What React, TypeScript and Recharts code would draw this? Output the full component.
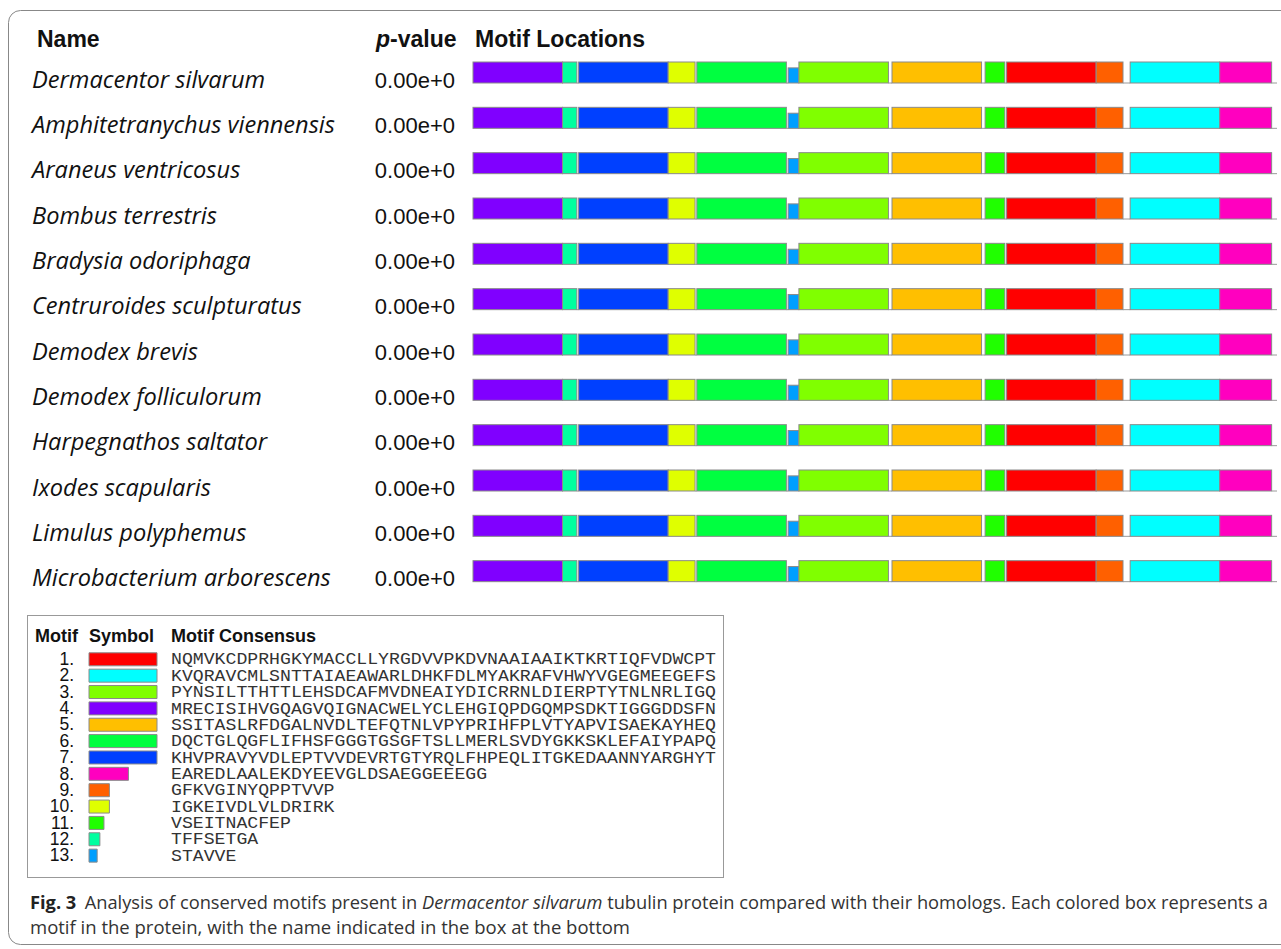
import { Bar, BarChart, Cell, XAxis, YAxis } from "recharts"

const species = [
  "Dermacentor silvarum",
  "Amphitetranychus viennensis",
  "Araneus ventricosus",
  "Bombus terrestris",
  "Bradysia odoriphaga",
  "Centruroides sculpturatus",
  "Demodex brevis",
  "Demodex folliculorum",
  "Harpegnathos saltator",
  "Ixodes scapularis",
  "Limulus polyphemus",
  "Microbacterium arborescens",
]

const pValues = [
  "0.00e+0", "0.00e+0", "0.00e+0", "0.00e+0", "0.00e+0", "0.00e+0",
  "0.00e+0", "0.00e+0", "0.00e+0", "0.00e+0", "0.00e+0", "0.00e+0",
]

const motifIds = ["1", "2", "3", "4", "5", "6", "7", "8", "9", "10", "11", "12", "13"]

const motifColors = [
  "#ff0000", "#00ffff", "#80ff00", "#8000ff", "#ffbf00", "#00ff40", "#0040ff",
  "#ff00bf", "#ff6000", "#dfff00", "#20ff00", "#00ff9f", "#009fff",
]

const motifConsensus = [
  "NQMVKCDPRHGKYMACCLLYRGDVVPKDVNAAIAAIKTKRTIQFVDWCPT",
  "KVQRAVCMLSNTTAIAEAWARLDHKFDLMYAKRAFVHWYVGEGMEEGEFS",
  "PYNSILTTHTTLEHSDCAFMVDNEAIYDICRRNLDIERPTYTNLNRLIGQ",
  "MRECISIHVGQAGVQIGNACWELYCLEHGIQPDGQMPSDKTIGGGDDSFN",
  "SSITASLRFDGALNVDLTEFQTNLVPYPRIHFPLVTYAPVISAEKAYHEQ",
  "DQCTGLQGFLIFHSFGGGTGSGFTSLLMERLSVDYGKKSKLEFAIYPAPQ",
  "KHVPRAVYVDLEPTVVDEVRTGTYRQLFHPEQLITGKEDAANNYARGHYT",
  "EAREDLAALEKDYEEVGLDSAEGGEEEGG",
  "GFKVGINYQPPTVVP",
  "IGKEIVDLVLDRIRK",
  "VSEITNACFEP",
  "TFFSETGA",
  "STAVVE",
]

// motif sites along each sequence: motif number, start residue, relative box height
const siteMotifs = [4, 12, 7, 10, 6, 13, 3, 5, 11, 1, 9, 2, 8]
const siteStarts = [0, 50, 59, 109, 125, 176, 182, 234, 286, 298, 348, 367, 417]
const siteHeights = [1, 1, 1, 1, 1, 0.72, 1, 1, 1, 1, 1, 1, 1]
const sequenceLength = 449

const rows = species.map((name, i) => {
  const row: Record<string, string | number> = { name, pValue: pValues[i] }
  let pos = 0
  siteMotifs.forEach((m, k) => {
    const len = motifConsensus[m - 1].length
    row[`gap${k}`] = siteStarts[k] - pos
    row[`site${k}`] = len
    pos = siteStarts[k] + len
  })
  row.tail = sequenceLength - pos
  return row
})

const legendRows = motifIds.map((id, i) => ({
  id,
  width: motifConsensus[i].length,
}))

const SANS = "'Liberation Sans', Arial, sans-serif"

function GapLine(props: any) {
  const { x, y, width, height } = props
  if (!width) return <g />
  return <line x1={x} x2={x + width} y1={y + height} y2={y + height} stroke="#9a9a9a" strokeWidth={1} />
}

function motifShape(frac: number, color: string) {
  return (props: any) => {
    const { x, y, width, height } = props
    const h = height * frac
    return (
      <rect
        x={x}
        y={y + height - h}
        width={width}
        height={h}
        fill={color}
        stroke="#8a8a8a"
        strokeWidth={1}
      />
    )
  }
}

function SpeciesTick(props: any) {
  const { y, payload, index } = props
  return (
    <g>
      <text x={32} y={y} dy={15} fontFamily="'Open Sans', sans-serif" fontStyle="italic" fontSize={23.6} fill="#111">
        {payload.value}
      </text>
      <text x={455} y={y} dy={15} textAnchor="end" fontFamily={SANS} fontSize={22} fill="#111">
        {pValues[index]}
      </text>
    </g>
  )
}

function LegendTick(props: any) {
  const { y, payload, index } = props
  const seq = motifConsensus[index]
  return (
    <g>
      <text x={74} y={y} dy={6} textAnchor="end" fontFamily={SANS} fontSize={17.5} fill="#111">
        {payload.value}.
      </text>
      <text
        x={171}
        y={y}
        dy={5.5}
        fontFamily="'Liberation Mono', 'Courier New', monospace"
        fontSize={17}
        fill="#333"
        textLength={seq.length * 10.9}
        lengthAdjust="spacingAndGlyphs"
      >
        {seq}
      </text>
    </g>
  )
}

const layer = { position: "absolute" as const, left: 0, top: 0 }

export default function App() {
  return (
    <div style={{ position: "absolute", left: 0, top: 0, width: 1281, height: 949, overflow: "hidden", background: "#fff" }}>
      <svg width={1281} height={949} style={layer}>
        <rect x={8.5} y={10.5} width={1300} height={934} rx={12} fill="none" stroke="#888" />
        <g fontFamily={SANS} fontWeight="bold" fontSize={23} fill="#111">
          <text x={37} y={47}>Name</text>
          <text x={376} y={47}>
            <tspan fontStyle="italic">p</tspan>-value
          </text>
          <text x={475} y={47}>Motif Locations</text>
        </g>
        <rect x={27.5} y={615.5} width={696} height={262} fill="none" stroke="#999" />
        <g fontFamily={SANS} fontWeight="bold" fontSize={18} fill="#111">
          <text x={35} y={642}>Motif</text>
          <text x={89} y={642}>Symbol</text>
          <text x={171} y={642}>Motif Consensus</text>
        </g>
        <g fontFamily="'Open Sans', sans-serif" fontSize={17.5} fill="#333">
          <text x={30} y={909} textLength={1238} lengthAdjust="spacingAndGlyphs">
            <tspan fontWeight="bold" fill="#222">Fig. 3</tspan>
            <tspan dx={8}>Analysis of conserved motifs present in </tspan>
            <tspan fontStyle="italic">Dermacentor silvarum</tspan>
            <tspan> tubulin protein compared with their homologs. Each colored box represents a</tspan>
          </text>
          <text x={30} y={934} textLength={600} lengthAdjust="spacingAndGlyphs">
            motif in the protein, with the name indicated in the box at the bottom
          </text>
        </g>
      </svg>

      <div style={layer}>
        <BarChart
          width={1281}
          height={949}
          layout="vertical"
          data={rows}
          barSize={21}
          margin={{ top: 50, right: 4, bottom: 355, left: 0 }}
        >
          <XAxis type="number" domain={[0, sequenceLength]} hide />
          <YAxis
            type="category"
            dataKey="name"
            width={473}
            axisLine={false}
            tickLine={false}
            interval={0}
            tick={<SpeciesTick />}
          />
          {siteMotifs.map((m, k) => [
            <Bar key={`gap${k}`} dataKey={`gap${k}`} stackId="seq" shape={GapLine} isAnimationActive={false} />,
            <Bar
              key={`site${k}`}
              dataKey={`site${k}`}
              stackId="seq"
              fill={motifColors[m - 1]}
              shape={motifShape(siteHeights[k], motifColors[m - 1])}
              isAnimationActive={false}
            />,
          ])}
          <Bar dataKey="tail" stackId="seq" shape={GapLine} isAnimationActive={false} />
        </BarChart>
      </div>

      <div style={layer}>
        <BarChart
          width={1281}
          height={949}
          layout="vertical"
          data={legendRows}
          barSize={13}
          margin={{ top: 650.8, right: 1124, bottom: 85.5, left: 0 }}
        >
          <XAxis type="number" domain={[0, 50]} hide />
          <YAxis
            type="category"
            dataKey="id"
            width={89}
            axisLine={false}
            tickLine={false}
            interval={0}
            tick={<LegendTick />}
          />
          <Bar dataKey="width" stroke="#8a8a8a" isAnimationActive={false}>
            {legendRows.map((r, i) => (
              <Cell key={r.id} fill={motifColors[i]} />
            ))}
          </Bar>
        </BarChart>
      </div>
    </div>
  )
}
